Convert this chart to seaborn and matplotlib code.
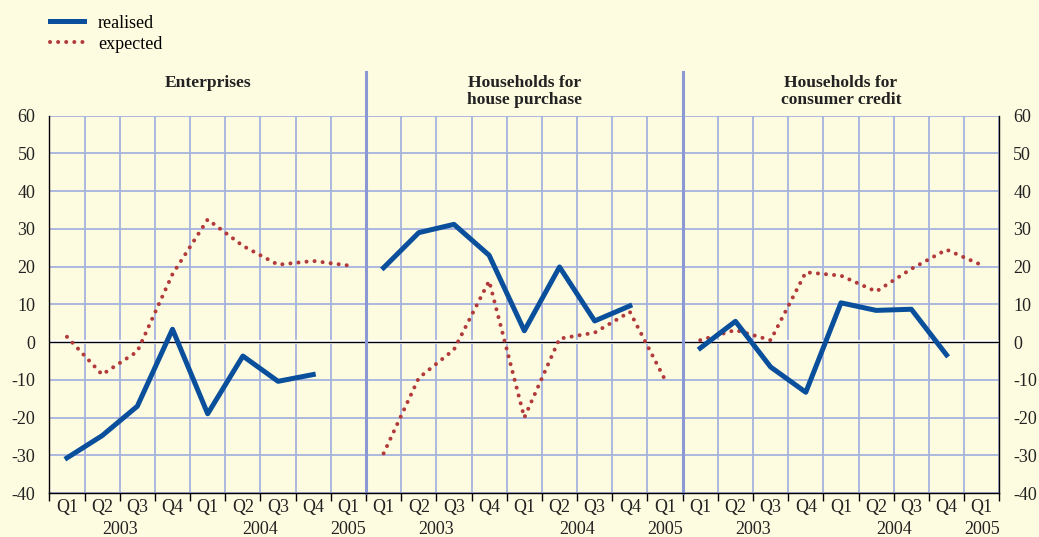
#importing libraries
import numpy as np
import pandas as pd
import matplotlib
matplotlib.use("Agg")
import matplotlib.pyplot as plt
import matplotlib.transforms as mtransforms
from matplotlib.lines import Line2D
import seaborn as sns

# data (percentages)
quarters = ['Q1', 'Q2', 'Q3', 'Q4', 'Q1', 'Q2', 'Q3', 'Q4', 'Q1']
years = ['2003', '2004', '2005']
year_pos = [2.0, 6.0, 8.5]
panel_titles = ['Enterprises', 'Households for\nhouse purchase', 'Households for\nconsumer credit']

ent_realised = [-30.7, -24.8, -17.0, 3.4, -19.0, -3.7, -10.4, -8.6, np.nan]
ent_expected = [1.4, -8.6, -2.5, 18.0, 32.5, 25.5, 20.5, 21.5, 20.3]
hp_realised = [19.7, 29.0, 31.2, 23.0, 3.0, 19.9, 5.6, 9.6, np.nan]
hp_expected = [-29.5, -9.5, -2.0, 16.2, -20.0, 0.9, 2.5, 8.0, -10.0]
cc_realised = [-1.6, 5.5, -6.6, -13.3, 10.4, 8.4, 8.7, -3.4, np.nan]
cc_expected = [0.5, 3.2, 0.5, 18.5, 17.6, 13.4, 19.4, 24.5, 20.4]

realised = [ent_realised, hp_realised, cc_realised]
expected = [ent_expected, hp_expected, cc_expected]

# long table: one row per panel / quarter / series
rows = []
for p in range(3):
    for i in range(len(quarters)):
        rows.append({'panel': p, 'x': 9 * p + i + 0.5, 'series': 'realised', 'value': realised[p][i]})
        rows.append({'panel': p, 'x': 9 * p + i + 0.5, 'series': 'expected', 'value': expected[p][i]})
df = pd.DataFrame(rows)

bg = '#FEFCE0'
blue = '#0A4F9C'
red = '#B23A3A'
grid_col = '#A6B2DE'
sep_col = '#8A99D5'
dots = (0, (0.01, 2.0))

plt.rcParams['font.family'] = ['Liberation Serif', 'DejaVu Serif']
plt.rcParams['axes.unicode_minus'] = False

fig = plt.figure(figsize=(10.39, 5.37), dpi=100)
fig.patch.set_facecolor(bg)
ax = fig.add_axes([0.0475, 0.0819, 0.9143, 0.7027])
ax.set_facecolor(bg)

ax.set_xlim(0, 27)
ax.set_ylim(-40, 60)

# grid
ax.set_yticks(np.arange(-40, 61, 10))
ax.set_xticks(np.arange(0, 28, 1))
ax.set_xticks(np.arange(0.5, 27, 1), minor=True)
ax.set_xticklabels([])
ax.set_xticklabels(quarters * 3, minor=True)
ax.grid(True, which='major', color=grid_col, lw=1.3, zorder=0)
ax.set_axisbelow(True)

ax.tick_params(axis='x', which='major', length=6, width=1, color='black', direction='out')
ax.tick_params(axis='x', which='minor', length=0, pad=4, labelsize=13, labelcolor='#222222')
ax.tick_params(axis='y', which='major', length=0, pad=10, labelsize=13, labelcolor='#222222',
               left=True, right=True, labelleft=True, labelright=True)

for side in ['left', 'right', 'bottom']:
    ax.spines[side].set_color('black')
    ax.spines[side].set_linewidth(1.0)
ax.spines['top'].set_visible(False)

# zero line
ax.axhline(0, color='white', lw=3.0, zorder=1)
ax.axhline(0, color='black', lw=1.0, zorder=1.5)

# panel separators, extending above the plot area
for s in [9, 18]:
    ax.axvline(s, ymin=0, ymax=1.117, color=sep_col, lw=2.2, clip_on=False, zorder=2)

# series
for p in range(3):
    d = df[df['panel'] == p]
    sns.lineplot(data=d[d['series'] == 'expected'], x='x', y='value', ax=ax, color=red,
                 lw=2.9, linestyle=dots, dash_capstyle='round', legend=False, zorder=3)
    sns.lineplot(data=d[d['series'] == 'realised'], x='x', y='value', ax=ax, color=blue,
                 lw=3.6, legend=False, zorder=4)

ax.set_xlabel('')
ax.set_ylabel('')

# panel titles and year labels
trans = mtransforms.blended_transform_factory(ax.transData, ax.transAxes)
for p in range(3):
    ax.text(9 * p + 4.5, 1.107, panel_titles[p], transform=trans, ha='center', va='top',
            fontsize=12.6, fontweight='bold', linespacing=1.05, color='#222222')
    for yl, yp in zip(years, year_pos):
        ax.text(9 * p + yp, -0.108, yl, transform=trans, ha='center', va='baseline',
                fontsize=13, color='#222222')

# legend
handles = [Line2D([], [], color=blue, lw=3.6),
           Line2D([], [], color=red, lw=2.9, linestyle=dots, dash_capstyle='round')]
fig.legend(handles, ['realised', 'expected'], loc='upper left', bbox_to_anchor=(0.036, 0.996),
           frameon=False, fontsize=13, handlelength=1.9, handletextpad=0.75,
           labelspacing=0.22, borderpad=0.2)

plt.savefig('out.png', dpi=100, facecolor=bg)
